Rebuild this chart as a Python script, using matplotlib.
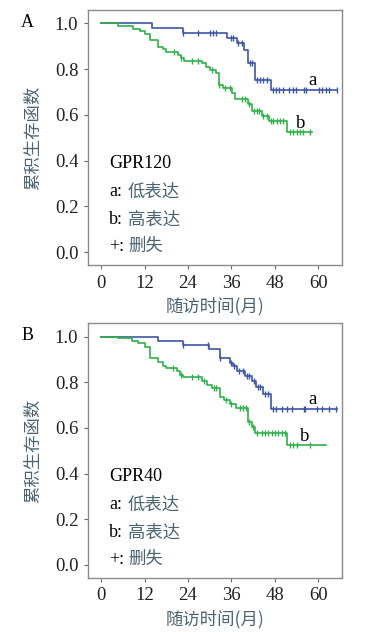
import numpy as np
import matplotlib
matplotlib.use('Agg')
import matplotlib.pyplot as plt

SERIF = ['Liberation Serif', 'Noto Sans CJK SC']
CJK = ['Noto Sans CJK SC', 'Liberation Serif']
BLUE, GREEN, CJKC = '#3d55a5', '#30b04a', '#4a6472'

# Panel A  GPR120 : a = 低表达 (blue), b = 高表达 (green)
a1_t = [14.0, 22.7, 34.9, 37.4, 39.5, 40.6, 42.6, 46.8]
a1_s = [0.978, 0.957, 0.935, 0.913, 0.884, 0.826, 0.751, 0.708]
a1_c = [22.7, 26.9, 30.2, 30.9, 31.6, 35.8, 36.5, 37.9, 38.8, 41.0, 41.6, 43.0, 43.9,
        44.8, 45.7, 47.6, 48.4, 49.2, 50.2, 52.0, 52.9, 53.8, 55.9, 56.6, 60.2, 61.1,
        62.0, 62.9, 65.1]
a1_end = 65.2
b1_t = [4.8, 8.9, 10.8, 12.0, 13.5, 15.8, 17.2, 18.0, 21.2, 22.1, 23.0, 28.0, 29.0,
        30.1, 31.7, 32.6, 33.8, 36.1, 37.0, 40.7, 41.6, 44.4, 46.5, 51.4]
b1_s = [0.989, 0.975, 0.967, 0.952, 0.927, 0.898, 0.887, 0.874, 0.862, 0.848, 0.837,
        0.826, 0.811, 0.794, 0.783, 0.732, 0.717, 0.696, 0.670, 0.649, 0.616, 0.594,
        0.571, 0.524]
b1_c = [20.0, 22.1, 25.0, 26.9, 30.6, 32.6, 34.3, 35.6, 38.8, 39.8, 40.9, 42.1, 43.0,
        43.7, 44.8, 45.7, 46.8, 47.6, 48.5, 49.4, 50.3, 52.2, 53.1, 54.0, 54.9, 55.8, 57.7]
b1_end = 58.3

# Panel B  GPR40
a2_t = [15.8, 22.7, 29.9, 32.7, 35.6, 36.5, 37.6, 39.8, 41.6, 42.8, 44.8, 46.8]
a2_s = [0.982, 0.964, 0.945, 0.908, 0.886, 0.869, 0.850, 0.828, 0.803, 0.781, 0.749, 0.683]
a2_c = [22.7, 29.6, 32.9, 35.9, 36.8, 38.2, 39.1, 40.2, 40.9, 42.1, 43.2, 43.9, 45.3,
        46.0, 47.4, 48.3, 49.9, 51.4, 52.6, 55.9, 56.3, 59.7, 60.9, 62.8, 64.9]
a2_end = 65.2
b2_t = [4.8, 8.6, 10.3, 12.1, 13.5, 15.8, 17.0, 17.9, 20.9, 21.8, 22.7, 28.0, 29.2,
        30.7, 32.9, 34.0, 35.6, 37.3, 40.7, 41.6, 42.5, 51.4]
b2_s = [0.992, 0.981, 0.971, 0.952, 0.905, 0.888, 0.873, 0.862, 0.847, 0.832, 0.821,
        0.806, 0.788, 0.775, 0.735, 0.723, 0.704, 0.689, 0.624, 0.603, 0.577, 0.526]
b2_c = [19.9, 22.1, 25.0, 26.9, 28.4, 31.1, 31.8, 34.5, 35.9, 38.3, 39.2, 40.0, 40.9,
        41.9, 43.0, 44.4, 45.3, 46.2, 47.1, 48.0, 48.9, 49.9, 50.8, 52.2, 53.1, 54.0, 57.7]
b2_end = 62.1

xticks = [0, 12, 24, 36, 48, 60]
yticks = [0.0, 0.2, 0.4, 0.6, 0.8, 1.0]


def km(ax, t, s, c, end, color):
    x = [0] + t + [end]
    y = [1.0] + s + [s[-1]]
    ax.step(x, y, where='post', color=color, lw=1.2)
    idx = np.searchsorted(t, c, side='right')
    cy = np.array([1.0] + s)[idx]
    ax.plot(c, cy, ls='none', marker='|', ms=5, mew=1.0, color=color)


def panel(rect, letter, gene, curves, a_pos, b_pos):
    ax = fig.add_axes(rect)
    for t, s, c, end, col in curves:
        km(ax, t, s, c, end, col)
    ax.set_xlim(-3.6, 66.5)
    ax.set_ylim(-0.056, 1.058)
    ax.set_xticks(xticks)
    ax.set_yticks(yticks)
    ax.set_yticklabels([f'{v:.1f}' for v in yticks])
    for lab in ax.get_xticklabels() + ax.get_yticklabels():
        lab.set_family(SERIF)
        lab.set_fontsize(13.5)
        lab.set_color('#222222')
    ax.tick_params(direction='out', length=3, width=0.8, color='#666666', pad=4)
    for sp in ax.spines.values():
        sp.set_color('#8a8a8a')
        sp.set_linewidth(1.0)
    ax.set_ylabel('累积生存函数', family=CJK, fontsize=12.5, color=CJKC, labelpad=9)
    ax.set_xlabel('随访时间(月)', family=CJK, fontsize=12.5, color=CJKC, labelpad=4)
    ax.text(a_pos[0], a_pos[1], 'a', family=SERIF, fontsize=13.5, ha='center', va='center')
    ax.text(b_pos[0], b_pos[1], 'b', family=SERIF, fontsize=13.5, ha='center', va='center')
    tx = 0.083
    ax.text(tx, 0.398, gene, transform=ax.transAxes, family=SERIF, fontsize=13, va='center')
    rows = [('a:', '低表达', 0.288), ('b:', '高表达', 0.178), ('+:', '删失', 0.073)]
    for k, lab, yy in rows:
        ax.text(tx, yy, k, transform=ax.transAxes, family=SERIF, fontsize=13, va='center')
        ax.text(tx + 0.075, yy, lab, transform=ax.transAxes, family=CJK, fontsize=12.5,
                va='center', color=CJKC)
    fig.text(rect[0] - 0.158, rect[1] + rect[3] - 0.02, letter, family=SERIF, fontsize=13,
             va='center', ha='center')
    return ax


fig = plt.figure(figsize=(3.83, 6.32), dpi=100)
panel([0.2298, 0.5807, 0.663, 0.4035], 'A', 'GPR120',
      [(a1_t, a1_s, a1_c, a1_end, BLUE), (b1_t, b1_s, b1_c, b1_end, GREEN)],
      (58.4, 0.749), (55.0, 0.562))
panel([0.2298, 0.086, 0.663, 0.4025], 'B', 'GPR40',
      [(a2_t, a2_s, a2_c, a2_end, BLUE), (b2_t, b2_s, b2_c, b2_end, GREEN)],
      (58.4, 0.726), (56.2, 0.562))
fig.savefig('out.png', dpi=100)
